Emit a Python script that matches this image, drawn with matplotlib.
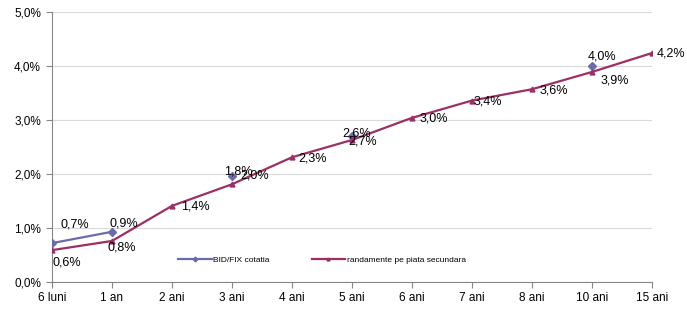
import matplotlib
matplotlib.use("Agg")
import matplotlib.pyplot as plt
from matplotlib.ticker import FuncFormatter

categories = ["6 luni", "1 an", "2 ani", "3 ani", "4 ani", "5 ani", "6 ani", "7 ani", "8 ani", "10 ani", "15 ani"]

# BID/FIX cotatia (None = no quote)
bid_values = [0.72, 0.93, None, 1.97, None, 2.70, None, None, None, 4.00, None]
bid_labels = ["0,7%", "0,9%", None, "1,8%", None, "2,6%", None, None, None, "4,0%", None]

# randamente pe piata secundara (one extra unlabeled point between 1 an and 2 ani)
sec_x = [0, 1, 1.4, 2, 3, 4, 5, 6, 7, 8, 9, 10]
sec_values = [0.59, 0.76, 1.02, 1.41, 1.81, 2.31, 2.63, 3.04, 3.36, 3.57, 3.89, 4.24]
sec_labels = ["0,6%", "0,8%", None, "1,4%", "2,0%", "2,3%", "2,7%", "3,0%", "3,4%", "3,6%", "3,9%", "4,2%"]

# label offsets in pixels (dx, dy), layout only
bid_offsets = [(23, 19), (12, 8), None, (6, 4), None, (5, 3), None, None, None, (10, 10), None]
sec_offsets = [(15, -12), (10, -7), None, (23, -1), (23, 9), (21, -1), (11, -2), (22, -1), (16, -1), (22, -1), (23, -9), (19, 0)]

plt.rcParams['font.family'] = ['Liberation Sans', 'DejaVu Sans']

BLUE = "#6c6cac"
RED = "#9c2f63"

fig = plt.figure(figsize=(6.87, 3.09), dpi=100)
ax = fig.add_axes([52/687, 27/309, 600/687, 270/309])

seg_x, seg_y = [], []
first = True
for i, v in enumerate(bid_values):
    if v is None:
        if seg_x:
            ax.plot(seg_x, seg_y, color=BLUE, lw=1.6, marker="D", ms=4,
                    label="BID/FIX cotatia" if first else None, zorder=3)
            first = False
        seg_x, seg_y = [], []
    else:
        seg_x.append(i)
        seg_y.append(v)
if seg_x:
    ax.plot(seg_x, seg_y, color=BLUE, lw=1.6, marker="D", ms=4,
            label="BID/FIX cotatia" if first else None, zorder=3)

marker_idx = [i for i, l in enumerate(sec_labels) if l is not None]
ax.plot(sec_x, sec_values, color=RED, lw=1.6, marker="^", ms=3.5,
        markevery=marker_idx, label="randamente pe piata secundara", zorder=4)

for i, (v, lab, off) in enumerate(zip(bid_values, bid_labels, bid_offsets)):
    if v is not None and lab is not None:
        ax.annotate(lab, (i, v), xytext=off, textcoords="offset pixels",
                    ha="center", va="center", fontsize=9, color="black", zorder=5)
for x, v, lab, off in zip(sec_x, sec_values, sec_labels, sec_offsets):
    if lab is not None:
        ax.annotate(lab, (x, v), xytext=off, textcoords="offset pixels",
                    ha="center", va="center", fontsize=9, color="black", zorder=5)

ax.set_xlim(0, len(categories) - 1)
ax.set_ylim(0, 5)
ax.set_xticks(range(len(categories)))
ax.set_xticklabels(categories)
ax.set_yticks([0, 1, 2, 3, 4, 5])
ax.yaxis.set_major_formatter(FuncFormatter(lambda v, p: f"{v:.1f}%".replace(".", ",")))
ax.tick_params(axis="y", labelsize=8.5, length=4, color="#868686", pad=4)
ax.tick_params(axis="x", labelsize=8.5, length=4, color="#868686", pad=3)
ax.yaxis.grid(True, color="#d9d9d9", lw=0.8)
ax.set_axisbelow(True)
for s in ["top", "right"]:
    ax.spines[s].set_visible(False)
for s in ["left", "bottom"]:
    ax.spines[s].set_color("#868686")
    ax.spines[s].set_linewidth(0.8)

leg = ax.legend(loc="center", bbox_to_anchor=(0.45, 0.083), ncol=2, frameon=False,
                fontsize=6, handlelength=4, columnspacing=5, handletextpad=0.2,
                markerscale=0.6)

fig.savefig("out.png", dpi=100)
